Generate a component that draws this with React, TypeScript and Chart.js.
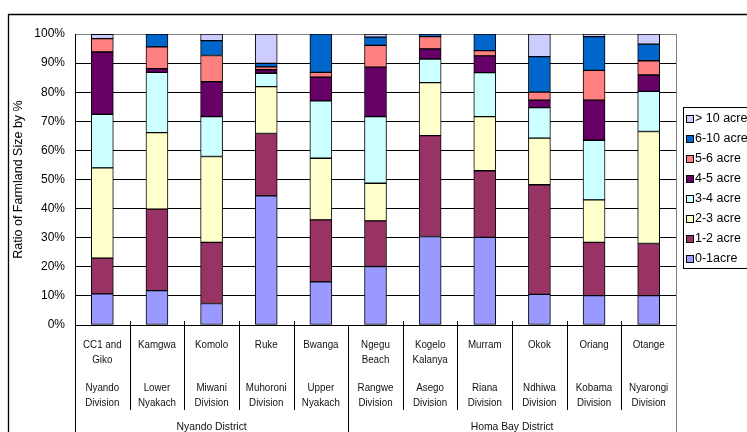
import React, { useEffect, useRef } from "react";
import { Chart, registerables } from "chart.js";

Chart.register(...registerables);

// Site names (first label row) and divisions (second label row)
const siteNames: string[][] = [
  ["CC1 and", "Giko"],
  ["Kamgwa"],
  ["Komolo"],
  ["Ruke"],
  ["Bwanga"],
  ["Ngegu", "Beach"],
  ["Kogelo", "Kalanya"],
  ["Murram"],
  ["Okok"],
  ["Oriang"],
  ["Otange"],
];
const divisions: string[][] = [
  ["Nyando", "Division"],
  ["Lower", "Nyakach"],
  ["Miwani", "Division"],
  ["Muhoroni", "Division"],
  ["Upper", "Nyakach"],
  ["Rangwe", "Division"],
  ["Asego", "Division"],
  ["Riana", "Division"],
  ["Ndhiwa", "Division"],
  ["Kobama", "Division"],
  ["Nyarongi", "Division"],
];
const districts = ["Nyando District", "Homa Bay District"];
const districtSpans = [5, 6]; // number of sites in each district

// Share of farmland size classes per site (%)
const acre0to1 = [10.7, 11.8, 7.4, 44.4, 14.8, 20.1, 30.4, 30.1, 10.5, 10.1, 10.1];
const acre1to2 = [12.3, 28.0, 21.0, 21.4, 21.3, 15.7, 34.7, 22.9, 37.7, 18.3, 17.9];
const acre2to3 = [31.0, 26.3, 29.5, 16.1, 21.2, 12.9, 18.2, 18.6, 16.0, 14.6, 38.5];
const acre3to4 = [18.4, 20.7, 13.7, 4.6, 19.7, 22.9, 8.1, 15.1, 10.5, 20.5, 13.8];
const acre4to5 = [21.4, 1.3, 12.0, 1.2, 8.2, 17.0, 3.5, 5.8, 2.6, 13.8, 5.6];
const acre5to6 = [4.6, 7.5, 9.0, 1.0, 1.6, 7.5, 4.2, 1.8, 2.7, 10.2, 4.9];
const acre6to10 = [0, 4.4, 5.1, 1.2, 13.2, 2.8, 0.9, 5.7, 12.2, 11.6, 5.7];
const acreOver10 = [1.5, 0, 2.3, 10.1, 0, 1.1, 0, 0, 7.8, 0.9, 3.5];

const seriesLabels = ["0-1acre", "1-2 acre", "2-3 acre", "3-4 acre", "4-5 acre", "5-6 acre", "6-10 acre", "> 10 acre"];
const seriesValues = [acre0to1, acre1to2, acre2to3, acre3to4, acre4to5, acre5to6, acre6to10, acreOver10];
const seriesColors = ["#9999FF", "#993366", "#FFFFCC", "#CCFFFF", "#660066", "#FF8080", "#0066CC", "#CCCCFF"];

const yTitle = "Ratio of Farmland Size by %";

const FONT = '"Liberation Sans", Arial, sans-serif';

function narrowText(ctx: CanvasRenderingContext2D, text: string, x: number, y: number, sx: number) {
  ctx.save();
  ctx.translate(x, y);
  ctx.scale(sx, 1);
  ctx.fillText(text, 0, 0);
  ctx.restore();
}

const framePlugin = {
  id: "frame",
  beforeDraw(chart: any) {
    const ctx: CanvasRenderingContext2D = chart.ctx;
    ctx.save();
    ctx.fillStyle = "#fff";
    ctx.fillRect(0, 0, chart.width, chart.height);
    ctx.strokeStyle = "#000";
    ctx.lineWidth = 1.3;
    ctx.beginPath();
    ctx.moveTo(8.5, chart.height + 5);
    ctx.lineTo(8.5, 14.5);
    ctx.lineTo(chart.width + 5, 14.5);
    ctx.stroke();
    ctx.restore();
  },
  afterDraw(chart: any) {
    const ctx: CanvasRenderingContext2D = chart.ctx;
    const area = chart.chartArea;
    const xs = chart.scales.x;
    const n = siteNames.length;
    const step = (area.right - area.left) / n;
    const H = chart.height;

    ctx.save();
    // plot border right side
    ctx.strokeStyle = "#808080";
    ctx.lineWidth = 1;
    ctx.beginPath();
    ctx.moveTo(Math.round(area.right) + 0.5, area.top);
    ctx.lineTo(Math.round(area.right) + 0.5, H);
    ctx.stroke();

    // category separators under the axis
    ctx.strokeStyle = "#000";
    const bounds: number[] = [0];
    let acc = 0;
    districtSpans.forEach((s) => {
      acc += s;
      bounds.push(acc);
    });
    for (let k = 0; k < n; k++) {
      const x = Math.round(area.left + k * step) + 0.5;
      const full = bounds.includes(k);
      ctx.beginPath();
      ctx.moveTo(x, full ? area.bottom : area.bottom - 4);
      ctx.lineTo(x, full ? H : 410);
      ctx.stroke();
    }

    // category labels
    ctx.fillStyle = "#111";
    ctx.font = `11.5px ${FONT}`;
    ctx.textAlign = "center";
    ctx.textBaseline = "middle";
    const sx = 0.85;
    for (let i = 0; i < n; i++) {
      const cx = xs.getPixelForValue(i);
      siteNames[i].forEach((t, j) => narrowText(ctx, t, cx, 345 + j * 14.5, sx));
      divisions[i].forEach((t, j) => narrowText(ctx, t, cx, 388 + j * 14.5, sx));
    }
    // district labels
    let start = 0;
    districts.forEach((d, k) => {
      const end = start + districtSpans[k];
      const cx = (area.left + start * step + area.left + end * step) / 2;
      narrowText(ctx, d, cx, 427, 0.9);
      start = end;
    });

    // y axis title
    ctx.fillStyle = "#000";
    ctx.save();
    ctx.translate(19, (area.top + area.bottom) / 2);
    ctx.rotate(-Math.PI / 2);
    ctx.font = `12.5px ${FONT}`;
    ctx.fillText(yTitle, 0, 0);
    ctx.restore();

    // legend
    const lx = 683.5;
    const ly = 107.5;
    ctx.strokeStyle = "#000";
    ctx.fillStyle = "#fff";
    ctx.fillRect(lx, ly, 200, 161);
    ctx.strokeRect(lx, ly, 200, 161);
    ctx.font = `12.5px ${FONT}`;
    ctx.textAlign = "left";
    const ds = chart.data.datasets;
    for (let r = 0; r < ds.length; r++) {
      const d = ds[ds.length - 1 - r];
      const cy = 119 + r * 20;
      const top = Math.round(cy - 3.5);
      ctx.fillStyle = d.backgroundColor;
      ctx.fillRect(687, top, 6, 6);
      ctx.strokeStyle = "#000";
      ctx.strokeRect(686.5, top - 0.5, 7, 7);
      ctx.fillStyle = "#000";
      ctx.fillText(d.label, 695, cy);
    }
    ctx.restore();
  },
};

export default function App() {
  const ref = useRef<HTMLCanvasElement>(null);

  useEffect(() => {
    if (!ref.current) return;
    const chart = new Chart(ref.current, {
      type: "bar",
      data: {
        labels: siteNames.map((s) => s.join(" ")),
        datasets: seriesLabels.map((label, i) => ({
          label,
          data: seriesValues[i],
          backgroundColor: seriesColors[i],
          borderColor: "#000",
          borderWidth: 1,
          borderSkipped: false,
          barThickness: 22,
        })),
      },
      options: {
        animation: false,
        responsive: false,
        devicePixelRatio: 1,
        layout: { padding: { top: 34, right: 71, bottom: 107, left: 0 } },
        plugins: { legend: { display: false }, tooltip: { enabled: false }, title: { display: false } },
        scales: {
          x: {
            stacked: true,
            grid: { display: false },
            border: { display: true, color: "#000" },
            ticks: { display: false },
            afterFit: (s: any) => {
              s.height = 0;
            },
          },
          y: {
            stacked: true,
            min: 0,
            max: 100,
            ticks: {
              stepSize: 10,
              padding: 10,
              color: "#000",
              font: { family: FONT, size: 12 },
              callback: (v: any) => `${v}%`,
            },
            grid: {
              drawTicks: false,
              color: (c: any) => (c.tick && c.tick.value === 100 ? "#808080" : "#000"),
              lineWidth: 1,
            },
            border: { display: true, color: "#000" },
            afterFit: (s: any) => {
              s.width = 75;
            },
          },
        },
      },
      plugins: [framePlugin],
    });
    return () => chart.destroy();
  }, []);

  return (
    <div style={{ position: "fixed", left: 0, top: 0, width: 747, height: 432, overflow: "hidden", background: "#fff" }}>
      <canvas ref={ref} width={747} height={432} style={{ display: "block", width: 747, height: 432 }} />
    </div>
  );
}
